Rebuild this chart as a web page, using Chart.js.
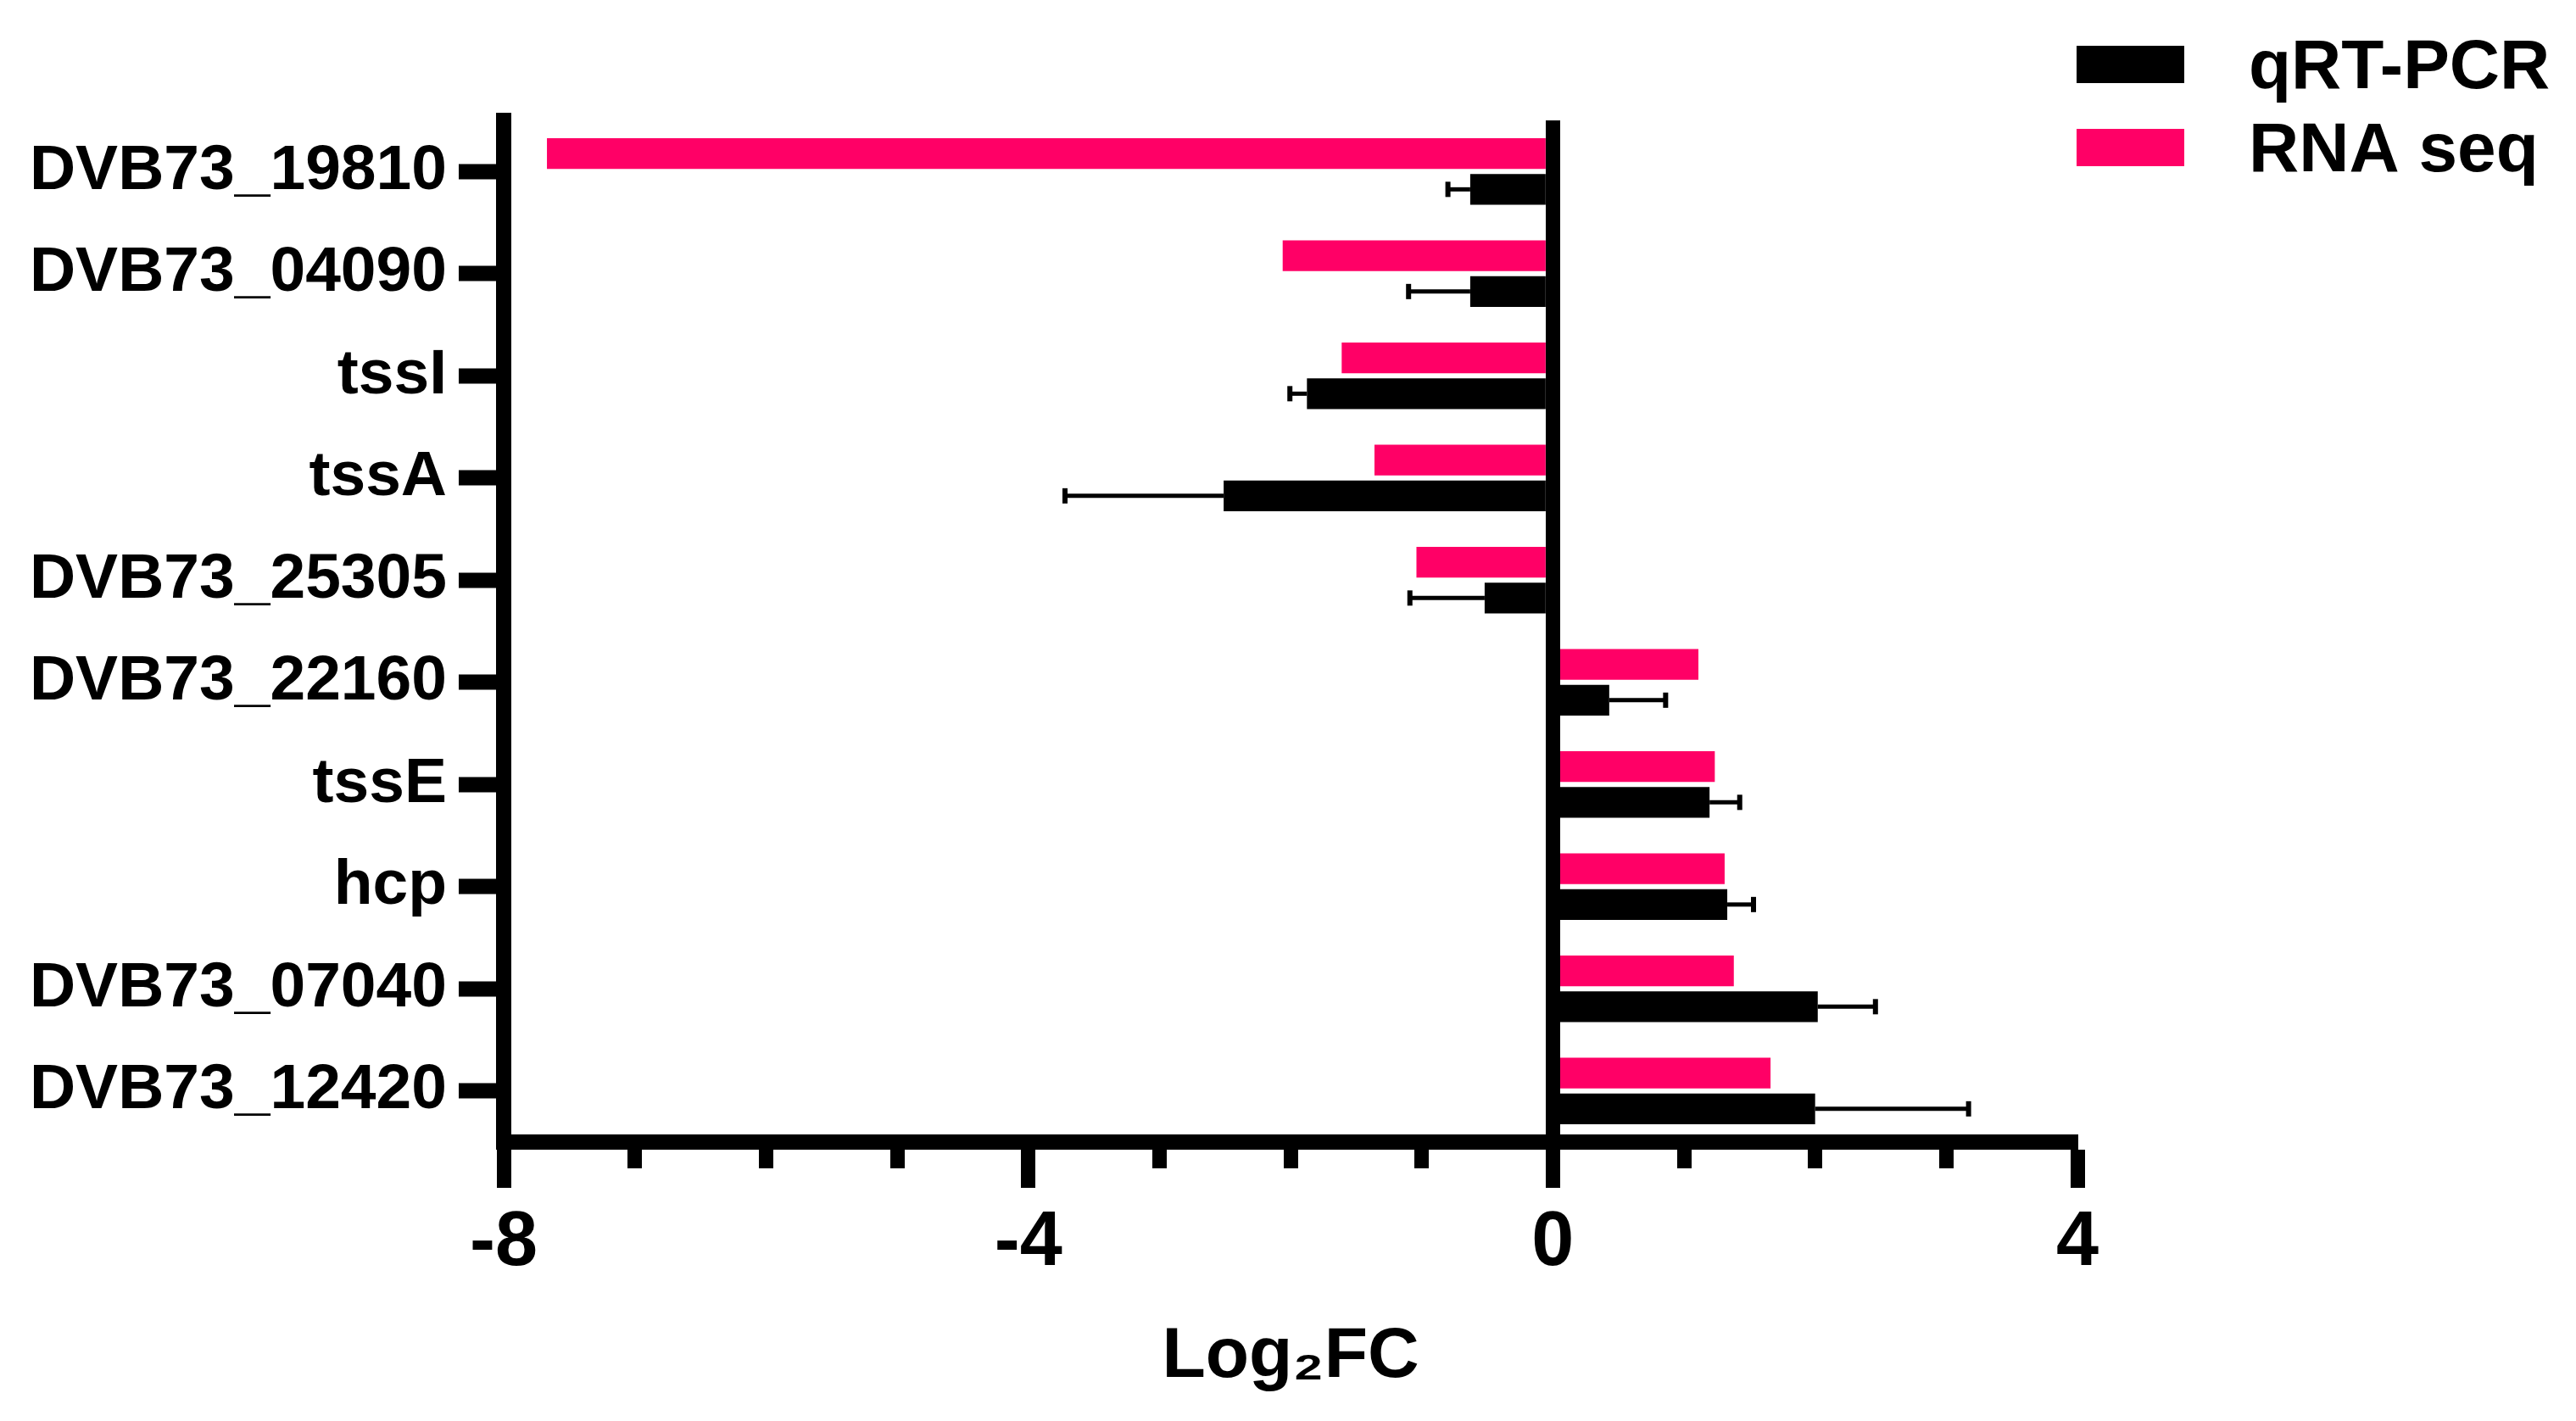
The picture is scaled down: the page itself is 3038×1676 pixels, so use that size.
<!DOCTYPE html>
<html>
<head>
<meta charset="utf-8">
<script src="https://cdn.jsdelivr.net/npm/chart.js@4.4.1/dist/chart.umd.min.js"></script>
<style>
  body { margin: 0; background: #fff; }
  #caixa { width: 3038px; height: 1676px; }
</style>
</head>
<body>
<div id="caixa"><canvas id="myChart"></canvas></div>
<script>
var genes = ['DVB73_19810', 'DVB73_04090', 'tssI', 'tssA', 'DVB73_25305',
             'DVB73_22160', 'tssE', 'hcp', 'DVB73_07040', 'DVB73_12420']
var rnaSeq = [-7.67, -2.06, -1.61, -1.36, -1.04, 1.11, 1.235, 1.31, 1.38, 1.66]
var qrtPcr = [-0.63, -0.63, -1.875, -2.51, -0.52, 0.43, 1.195, 1.33, 2.02, 2.00]
var qrtPcrErro = [0.17, 0.47, 0.13, 1.21, 0.57, 0.43, 0.23, 0.20, 0.44, 1.17]
var xTicks = [-8, -4, 0, 4]

var fonte = '"Liberation Sans", Arial, sans-serif'
Chart.defaults.font.family = fonte
Chart.defaults.color = '#000'

const ctx1 = document.getElementById('myChart').getContext('2d')

// barras de erro do qRT-PCR (so para fora)
var barrasErro = {
    id: 'barrasErro',
    afterDatasetsDraw: function (chart) {
        var meta = chart.getDatasetMeta(1)
        var xScale = chart.scales.x
        var c = chart.ctx
        c.save()
        c.strokeStyle = '#000'
        meta.data.forEach(function (bar, i) {
            var v = qrtPcr[i]
            var fim = xScale.getPixelForValue(v + (v < 0 ? -1 : 1) * qrtPcrErro[i])
            c.lineWidth = 5
            c.beginPath()
            c.moveTo(bar.x, bar.y)
            c.lineTo(fim, bar.y)
            c.stroke()
            c.lineWidth = 6
            c.beginPath()
            c.moveTo(fim, bar.y - 9)
            c.lineTo(fim, bar.y + 9)
            c.stroke()
        })
        c.restore()
    }
}

// legenda no canto de cima
var legenda = {
    id: 'legenda',
    afterDraw: function (chart) {
        var c = chart.ctx
        var itens = [chart.data.datasets[1], chart.data.datasets[0]]
        c.save()
        c.font = 'bold 82px ' + fonte
        c.textBaseline = 'alphabetic'
        itens.forEach(function (ds, i) {
            var y = 54 + i * 98
            c.fillStyle = ds.backgroundColor
            c.fillRect(2449, y, 127, 44)
            c.fillStyle = '#000'
            c.fillText(ds.label, 2652, y + 50)
        })
        c.restore()
    }
}

var data = {
    labels: genes,
    datasets: [{
        label: 'RNA seq',
        data: rnaSeq,
        backgroundColor: '#ff0066',
        categoryPercentage: 0.7,
        barPercentage: 0.86
    }, {
        label: 'qRT-PCR',
        data: qrtPcr,
        backgroundColor: '#000000',
        categoryPercentage: 0.7,
        barPercentage: 0.86
    }]
}

var options = {
    indexAxis: 'y',
    responsive: true,
    maintainAspectRatio: false,
    animation: false,
    layout: { padding: { top: 142, right: 588, bottom: 0, left: 0 } },
    plugins: {
        legend: { display: false },
        tooltip: { enabled: false }
    },
    scales: {
        x: {
            type: 'linear',
            min: -8,
            max: 4,
            afterFit: function (s) { s.height = 329 },
            border: { display: true, color: '#000', width: 18, z: 1 },
            grid: {
                z: 1,
                drawOnChartArea: true,
                color: function (c) { return c.tick && c.tick.value === 0 ? '#000' : 'rgba(0,0,0,0)' },
                lineWidth: function (c) { return c.tick && c.tick.value === 0 ? 17 : 1 },
                tickLength: 54,
                tickWidth: 17,
                tickColor: '#000',
                tickBorderDash: function (c) {
                    return c.tick && xTicks.indexOf(c.tick.value) >= 0 ? [] : [22, 300]
                }
            },
            ticks: {
                stepSize: 1,
                autoSkip: false,
                maxRotation: 0,
                padding: 12,
                color: '#000',
                font: { size: 90, weight: 'bold' },
                callback: function (v) { return xTicks.indexOf(v) >= 0 ? v : '' }
            },
            title: {
                display: true,
                text: 'Log₂FC',
                color: '#000',
                font: { size: 84, weight: 'bold' },
                padding: { top: 0, bottom: 25 }
            }
        },
        y: {
            afterFit: function (s) { s.width = 594 },
            border: { display: true, color: '#000', width: 18 },
            grid: {
                offset: false,
                drawOnChartArea: false,
                tickLength: 53,
                tickWidth: 18,
                tickColor: '#000'
            },
            ticks: {
                padding: 14,
                autoSkip: false,
                color: '#000',
                font: { size: 75, weight: 'bold' }
            }
        }
    }
}

new Chart(ctx1, {
    type: 'bar',
    data: data,
    options: options,
    plugins: [barrasErro, legenda]
})
</script>
</body>
</html>
